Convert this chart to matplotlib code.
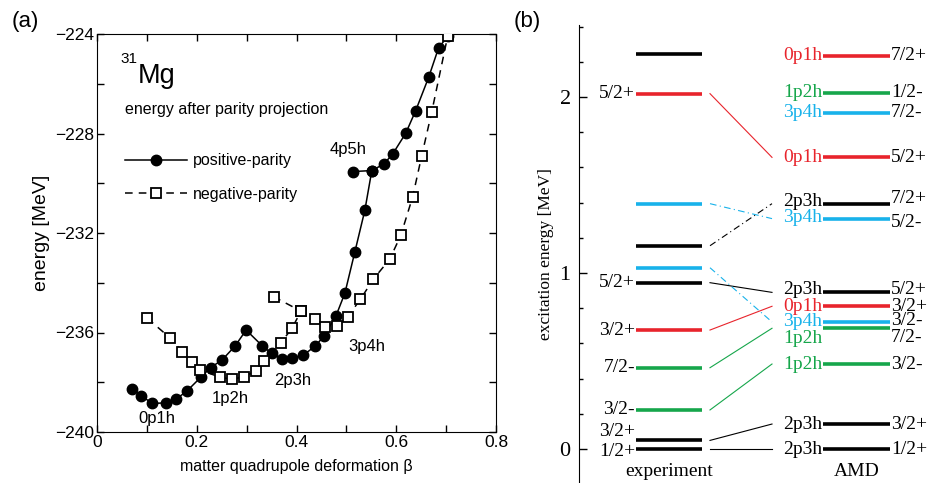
import numpy as np
import matplotlib
matplotlib.use('Agg')
import matplotlib.pyplot as plt
from matplotlib.ticker import MultipleLocator

plt.rcParams['font.family'] = 'Liberation Sans'

# ---- panel (a): energy vs deformation
pos_beta = [0.071, 0.089, 0.111, 0.138, 0.158, 0.181, 0.209, 0.228, 0.251, 0.277,
            0.299, 0.331, 0.350, 0.370, 0.391, 0.413, 0.438, 0.455, 0.479, 0.497,
            0.517, 0.537, 0.551, 0.575, 0.593, 0.619, 0.639, 0.665, 0.685, 0.703]
pos_energy = [-238.28, -238.55, -238.85, -238.83, -238.69, -238.34, -237.78, -237.41, -237.10, -236.54,
              -235.90, -236.53, -236.84, -237.05, -237.01, -236.92, -236.54, -236.14, -235.34, -234.42,
              -232.76, -231.09, -229.49, -229.23, -228.82, -227.99, -227.08, -225.74, -224.55, -224.10]
# 4p5h branch
pos_branch_beta = [0.513, 0.551]
pos_branch_energy = [-229.53, -229.49]

neg_beta = [0.101, 0.146, 0.171, 0.190, 0.207, 0.247, 0.271, 0.294, 0.318, 0.335,
            0.368, 0.391, 0.409, 0.437, 0.458, 0.482, 0.503, 0.528, 0.554, 0.587,
            0.609, 0.633, 0.651, 0.671, 0.703]
neg_energy = [-235.43, -236.21, -236.77, -237.20, -237.51, -237.80, -237.88, -237.78, -237.55, -237.15,
              -236.43, -235.83, -235.14, -235.47, -235.76, -235.72, -235.36, -234.67, -233.86, -233.05,
              -232.10, -230.54, -228.90, -227.15, -224.10]
neg_branch_beta = [0.354, 0.409]
neg_branch_energy = [-234.56, -235.14]

config_labels = ['0p1h', '1p2h', '2p3h', '3p4h', '4p5h']
config_beta = [0.120, 0.268, 0.392, 0.540, 0.504]
config_energy = [-239.44, -238.64, -237.91, -236.58, -228.66]

# ---- panel (b): level scheme
exp_energy = [0.0, 0.049, 0.222, 0.462, 0.676, 0.945, 1.030, 1.155, 1.394, 2.019, 2.246]
exp_spin = ['1/2+', '3/2+', '3/2-', '7/2-', '3/2+', '5/2+', '', '', '', '5/2+', '']
exp_kind = ['2p3h', '2p3h', '1p2h', '1p2h', '0p1h', '2p3h', '3p4h', '2p3h', '3p4h', '0p1h', '2p3h']

amd_energy = [0.0, 0.142, 0.483, 0.686, 0.722, 0.811, 0.890, 1.309, 1.394, 1.657, 1.911, 2.023, 2.233]
amd_spin = ['1/2+', '3/2+', '3/2-', '7/2-', '3/2-', '3/2+', '5/2+', '5/2-', '7/2+', '5/2+', '7/2-', '1/2-', '7/2+']
amd_config = ['2p3h', '2p3h', '1p2h', '1p2h', '3p4h', '0p1h', '2p3h', '3p4h', '2p3h', '0p1h', '3p4h', '1p2h', '0p1h']

# experiment level index -> AMD level index
links = [(0, 0), (1, 1), (2, 2), (3, 3), (4, 5), (5, 6), (6, 4), (7, 8), (8, 7), (9, 9)]
dashed_links = [6, 7, 8]

colors = {'0p1h': '#e8242c', '1p2h': '#16a64b', '2p3h': 'black', '3p4h': '#18b2ea'}

fig = plt.figure(figsize=(9.32, 4.83), dpi=100)

# ================= (a)
ax = fig.add_axes([97/932, 1-432/483, 399/932, 398/483])
ax.plot(pos_beta, pos_energy, '-', color='k', lw=1.1, marker='o', ms=7.5,
        mfc='k', mec='k', label='positive-parity', zorder=3)
ax.plot(pos_branch_beta, pos_branch_energy, '-', color='k', lw=1.1, marker='o', ms=7.5,
        mfc='k', mec='k', zorder=3)
ax.plot(neg_beta, neg_energy, color='k', lw=1.1, dashes=(5, 4), marker='s', ms=7.5,
        mfc='white', mec='k', mew=1.3, label='negative-parity', zorder=4)
ax.plot(neg_branch_beta, neg_branch_energy, color='k', lw=1.1, dashes=(5, 4), marker='s',
        ms=7.5, mfc='white', mec='k', mew=1.3, zorder=4)

for lab, b, e in zip(config_labels, config_beta, config_energy):
    ax.text(b, e, lab, fontsize=12, ha='center', va='center')

ax.set_xlim(0, 0.8)
ax.set_ylim(-240, -224)
ax.xaxis.set_major_locator(MultipleLocator(0.2))
ax.xaxis.set_minor_locator(MultipleLocator(0.1))
ax.yaxis.set_major_locator(MultipleLocator(4))
ax.yaxis.set_minor_locator(MultipleLocator(2))
ax.tick_params(which='both', direction='in', top=True, right=True, length=5, width=1)
ax.tick_params(labelsize=12.5, pad=2)
ax.xaxis.set_major_formatter(plt.FuncFormatter(lambda v, p: '0' if v == 0 else f'{v:.1f}'))
ax.set_xlabel('matter quadrupole deformation β', fontsize=11.5, labelpad=7)
ax.set_ylabel('energy [MeV]', fontsize=14, labelpad=4)

ax.text(0.058, 0.955, '31', transform=ax.transAxes, fontsize=11, va='top')
ax.text(0.102, 0.876, 'Mg', transform=ax.transAxes, fontsize=19.5, va='baseline')
ax.text(0.07, 0.81, 'energy after parity projection', transform=ax.transAxes,
        fontsize=11.5, va='center')
ax.legend(loc='upper left', bbox_to_anchor=(0.07, 0.70), frameon=False, fontsize=11.5,
          handlelength=3.9, handletextpad=0.35, labelspacing=1.15, borderpad=0,
          borderaxespad=0)
fig.text(25/932, 1-22/483, '(a)', fontsize=16, ha='center', va='center')

# ================= (b)
serif = 'Liberation Serif'
bx = fig.add_axes([579/932, 0, 353/932, 458/483])
bx.set_xlim(0, 353)
bx.set_ylim(-0.193, 2.409)
for s in ['top', 'right', 'bottom']:
    bx.spines[s].set_visible(False)
bx.set_xticks([])
bx.yaxis.set_major_locator(MultipleLocator(1))
bx.yaxis.set_minor_locator(MultipleLocator(0.2))
bx.tick_params(which='major', direction='in', length=6, width=1, labelsize=16, pad=6)
bx.tick_params(which='minor', direction='in', length=3, width=1)
for t in bx.get_yticklabels():
    t.set_fontfamily(serif)
bx.set_ylabel('excitation energy [MeV]', fontsize=12.5, fontfamily=serif, labelpad=4)

exp_x = (57, 123)
amd_x = (244, 311)
link_x = (131, 193)
exp_nudge = {1: 0.048, 0: -0.012}
amd_left_nudge = {3: -0.058, 4: 0.002, 6: 0.014, 8: 0.012, 7: 0.004}
amd_right_nudge = {3: -0.05, 4: 0.006, 6: 0.014, 8: 0.03, 7: -0.02}

for i, (e, sp, k) in enumerate(zip(exp_energy, exp_spin, exp_kind)):
    bx.plot(exp_x, [e, e], color=colors[k], lw=2.6, solid_capstyle='butt')
    if sp:
        bx.text(exp_x[0] - 1, e + exp_nudge.get(i, 0), sp, ha='right', va='center',
                fontsize=14, fontfamily=serif)

for i, (e, sp, c) in enumerate(zip(amd_energy, amd_spin, amd_config)):
    bx.plot(amd_x, [e, e], color=colors[c], lw=2.6, solid_capstyle='butt')
    bx.text(amd_x[0] - 1, e + amd_left_nudge.get(i, 0), c, ha='right', va='center',
            fontsize=14, fontfamily=serif, color=colors[c])
    bx.text(amd_x[1] + 1, e + amd_right_nudge.get(i, 0), sp, ha='left', va='center',
            fontsize=14, fontfamily=serif)

for j, (i, k) in enumerate(links):
    ls = (0, (6, 3, 1, 3)) if j in dashed_links else '-'
    bx.plot(link_x, [exp_energy[i], amd_energy[k]], color=colors[exp_kind[i]],
            lw=0.8, linestyle=ls)

bx.text(90, -0.125, 'experiment', ha='center', va='center', fontsize=14, fontfamily=serif)
bx.text(278, -0.125, 'AMD', ha='center', va='center', fontsize=14, fontfamily=serif)
fig.text(527/932, 1-22/483, '(b)', fontsize=16, ha='center', va='center')

fig.savefig('out.png', dpi=100)
